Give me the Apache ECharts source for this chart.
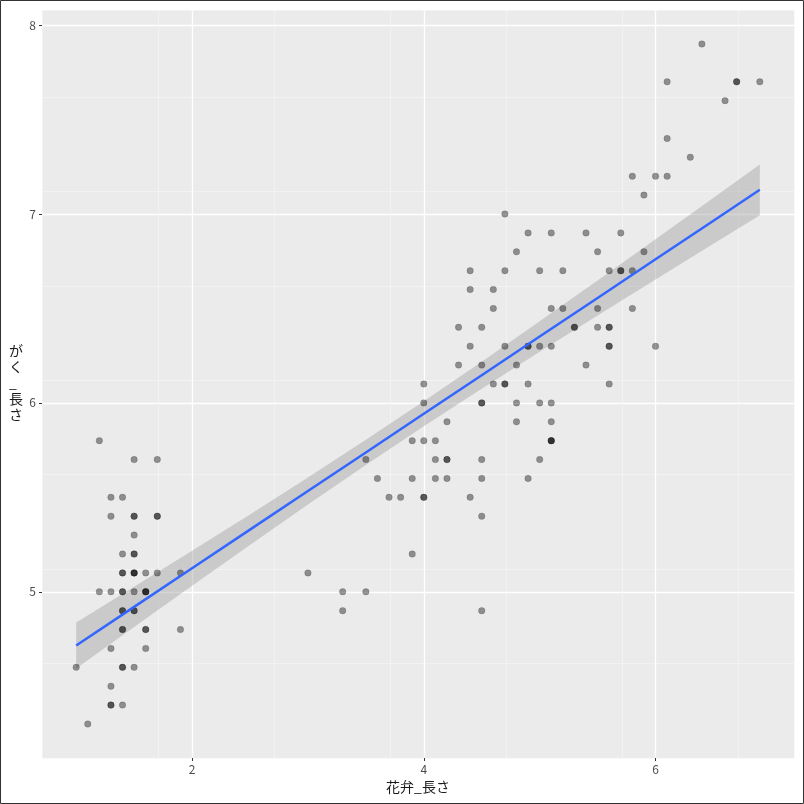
<!DOCTYPE html>
<html><head><meta charset="utf-8">
<script src="https://cdn.jsdelivr.net/npm/echarts@6/dist/echarts.min.js"></script>
<style>html,body{margin:0;padding:0;background:#fff}#c{width:804px;height:804px}</style>
</head><body><div id="c"></div>
<script>
// 花弁_長さ (Petal.Length)
const petalLength = [1.4,1.4,1.3,1.5,1.4,1.7,1.4,1.5,1.4,1.5,1.5,1.6,1.4,1.1,1.2,1.5,1.3,1.4,1.7,1.5,1.7,1.5,1.0,1.7,1.9,1.6,1.6,1.5,1.4,1.6,1.6,1.5,1.5,1.4,1.5,1.2,1.3,1.4,1.3,1.5,1.3,1.3,1.3,1.6,1.9,1.4,1.6,1.4,1.5,1.4,
4.7,4.5,4.9,4.0,4.6,4.5,4.7,3.3,4.6,3.9,3.5,4.2,4.0,4.7,3.6,4.4,4.5,4.1,4.5,3.9,4.8,4.0,4.9,4.7,4.3,4.4,4.8,5.0,4.5,3.5,3.8,3.7,3.9,5.1,4.5,4.5,4.7,4.4,4.1,4.0,4.4,4.6,4.0,3.3,4.2,4.2,4.2,4.3,3.0,4.1,
6.0,5.1,5.9,5.6,5.8,6.6,4.5,6.3,5.8,6.1,5.1,5.3,5.5,5.0,5.1,5.3,5.5,6.7,6.9,5.0,5.7,4.9,6.7,4.9,5.7,6.0,4.8,4.9,5.6,5.8,6.1,6.4,5.6,5.1,5.6,6.1,5.6,5.5,4.8,5.4,5.6,5.1,5.1,5.9,5.7,5.2,5.0,5.2,5.4,5.1];
// がく_長さ (Sepal.Length)
const sepalLength = [5.1,4.9,4.7,4.6,5.0,5.4,4.6,5.0,4.4,4.9,5.4,4.8,4.8,4.3,5.8,5.7,5.4,5.1,5.7,5.1,5.4,5.1,4.6,5.1,4.8,5.0,5.0,5.2,5.2,4.7,4.8,5.4,5.2,5.5,4.9,5.0,5.5,4.9,4.4,5.1,5.0,4.5,4.4,5.0,5.1,4.8,5.1,4.6,5.3,5.0,
7.0,6.4,6.9,5.5,6.5,5.7,6.3,4.9,6.6,5.2,5.0,5.9,6.0,6.1,5.6,6.7,5.6,5.8,6.2,5.6,5.9,6.1,6.3,6.1,6.4,6.6,6.8,6.7,6.0,5.7,5.5,5.5,5.8,6.0,5.4,6.0,6.7,6.3,5.6,5.5,5.5,6.1,5.8,5.0,5.6,5.7,5.7,6.2,5.1,5.7,
6.3,5.8,7.1,6.3,6.5,7.6,4.9,7.3,6.7,7.2,6.5,6.4,6.8,5.7,5.8,6.4,6.5,7.7,7.7,6.0,6.9,5.6,7.7,6.3,6.7,7.2,6.2,6.1,6.4,7.2,7.4,7.9,6.4,6.3,6.1,7.7,6.3,6.4,6.0,6.9,6.7,6.9,5.8,6.8,6.7,6.7,6.3,6.5,6.2,5.9];
// linear fit and 95% band
const fitX = [1.0,1.5,2.0,2.5,3.0,3.5,4.0,4.5,5.0,5.5,6.0,6.5,6.9];
const fitY = [4.7155,4.9200,5.1244,5.3289,5.5334,5.7378,5.9423,6.1467,6.3512,6.5557,6.7601,6.9646,7.1282];
const bandLower = [4.5934,4.8131,5.0316,5.2482,5.4619,5.6714,5.8760,6.0754,6.2708,6.4633,6.6537,6.8430,6.9938];
const bandUpper = [4.8376,5.0269,5.2172,5.4096,5.6049,5.8042,6.0086,6.2180,6.4316,6.6481,6.8665,7.0862,7.2626];
const xTicks = [2,4,6];
const yTicks = [5,6,7,8];
const xTitle = '花弁_長さ';
const yTitle = 'が\nく\n_\n長\nさ';

const points = petalLength.map((x,i)=>[x, sepalLength[i]]);
const fitLine = fitX.map((x,i)=>[x, fitY[i]]);
const band = fitX.map((x,i)=>[x, bandLower[i], bandUpper[i]]);

const XMIN = 0.705, XMAX = 7.195, YMIN = 4.12, YMAX = 8.08;
const font = 'Noto Sans CJK JP, Noto Sans, DejaVu Sans, sans-serif';

const chart = echarts.init(document.getElementById('c'), null, {renderer:'canvas'});
chart.setOption({
  animation:false,
  backgroundColor:'#fff',
  grid:{left:42, right:10, top:10, bottom:46, show:true, backgroundColor:'#EBEBEB', borderWidth:0},
  xAxis:[
    {type:'value', min:XMIN, max:XMAX, interval:1, axisLine:{show:false}, axisTick:{show:false}, axisLabel:{show:false},
     splitLine:{show:true, lineStyle:{color:'#F7F7F7', width:0.6}}},
    {type:'value', min:XMIN, max:XMAX, interval:2, position:'bottom', axisLine:{show:false},
     axisTick:{show:true, length:3, customValues:xTicks, lineStyle:{color:'#333333', width:1}},
     axisLabel:{show:true, customValues:xTicks, color:'#4D4D4D', fontSize:12, margin:5, fontFamily:font},
     splitLine:{show:true, lineStyle:{color:'#FFFFFF', width:1.3}},
     name:xTitle, nameLocation:'middle', nameGap:22, nameTextStyle:{color:'#1A1A1A', fontSize:14, fontFamily:font}}
  ],
  yAxis:[
    {type:'value', min:YMIN, max:YMAX, interval:0.5, axisLine:{show:false}, axisTick:{show:false}, axisLabel:{show:false},
     splitLine:{show:true, lineStyle:{color:'#F7F7F7', width:0.6}}},
    {type:'value', min:YMIN, max:YMAX, interval:1, position:'left', axisLine:{show:false},
     axisTick:{show:true, length:3, customValues:yTicks, lineStyle:{color:'#333333', width:1}},
     axisLabel:{show:true, customValues:yTicks, color:'#4D4D4D', fontSize:12, margin:6, fontFamily:font},
     splitLine:{show:true, lineStyle:{color:'#FFFFFF', width:1.3}}}
  ],
  series:[
    {type:'custom', xAxisIndex:1, yAxisIndex:1, z:2, silent:true, data:band,
     renderItem:function(params, api){
       if(params.dataIndex !== 0) return null;
       const up = band.map(d=>api.coord([d[0], d[2]]));
       const lo = band.map(d=>api.coord([d[0], d[1]])).reverse();
       return {type:'polygon', shape:{points:up.concat(lo)}, style:{fill:'rgba(153,153,153,0.4)', stroke:null}};
     }},
    {type:'scatter', xAxisIndex:1, yAxisIndex:1, z:3, data:points, symbolSize:6.5,
     itemStyle:{color:'rgba(0,0,0,0.5)', borderColor:'rgba(0,0,0,0.3)', borderWidth:0.6}},
    {type:'line', xAxisIndex:1, yAxisIndex:1, z:4, data:fitLine, showSymbol:false, symbol:'none',
     lineStyle:{color:'#3366FF', width:2.5}}
  ],
  graphic:[
    {type:'text', left:9, top:343, style:{text:yTitle, fill:'#1A1A1A', fontSize:14, fontFamily:font, lineHeight:16, align:'center'}},
    {type:'rect', shape:{x:0.5, y:0.5, width:803, height:803}, style:{fill:null, stroke:'#333333', lineWidth:1}, z:100}
  ]
});
</script>
</body></html>
